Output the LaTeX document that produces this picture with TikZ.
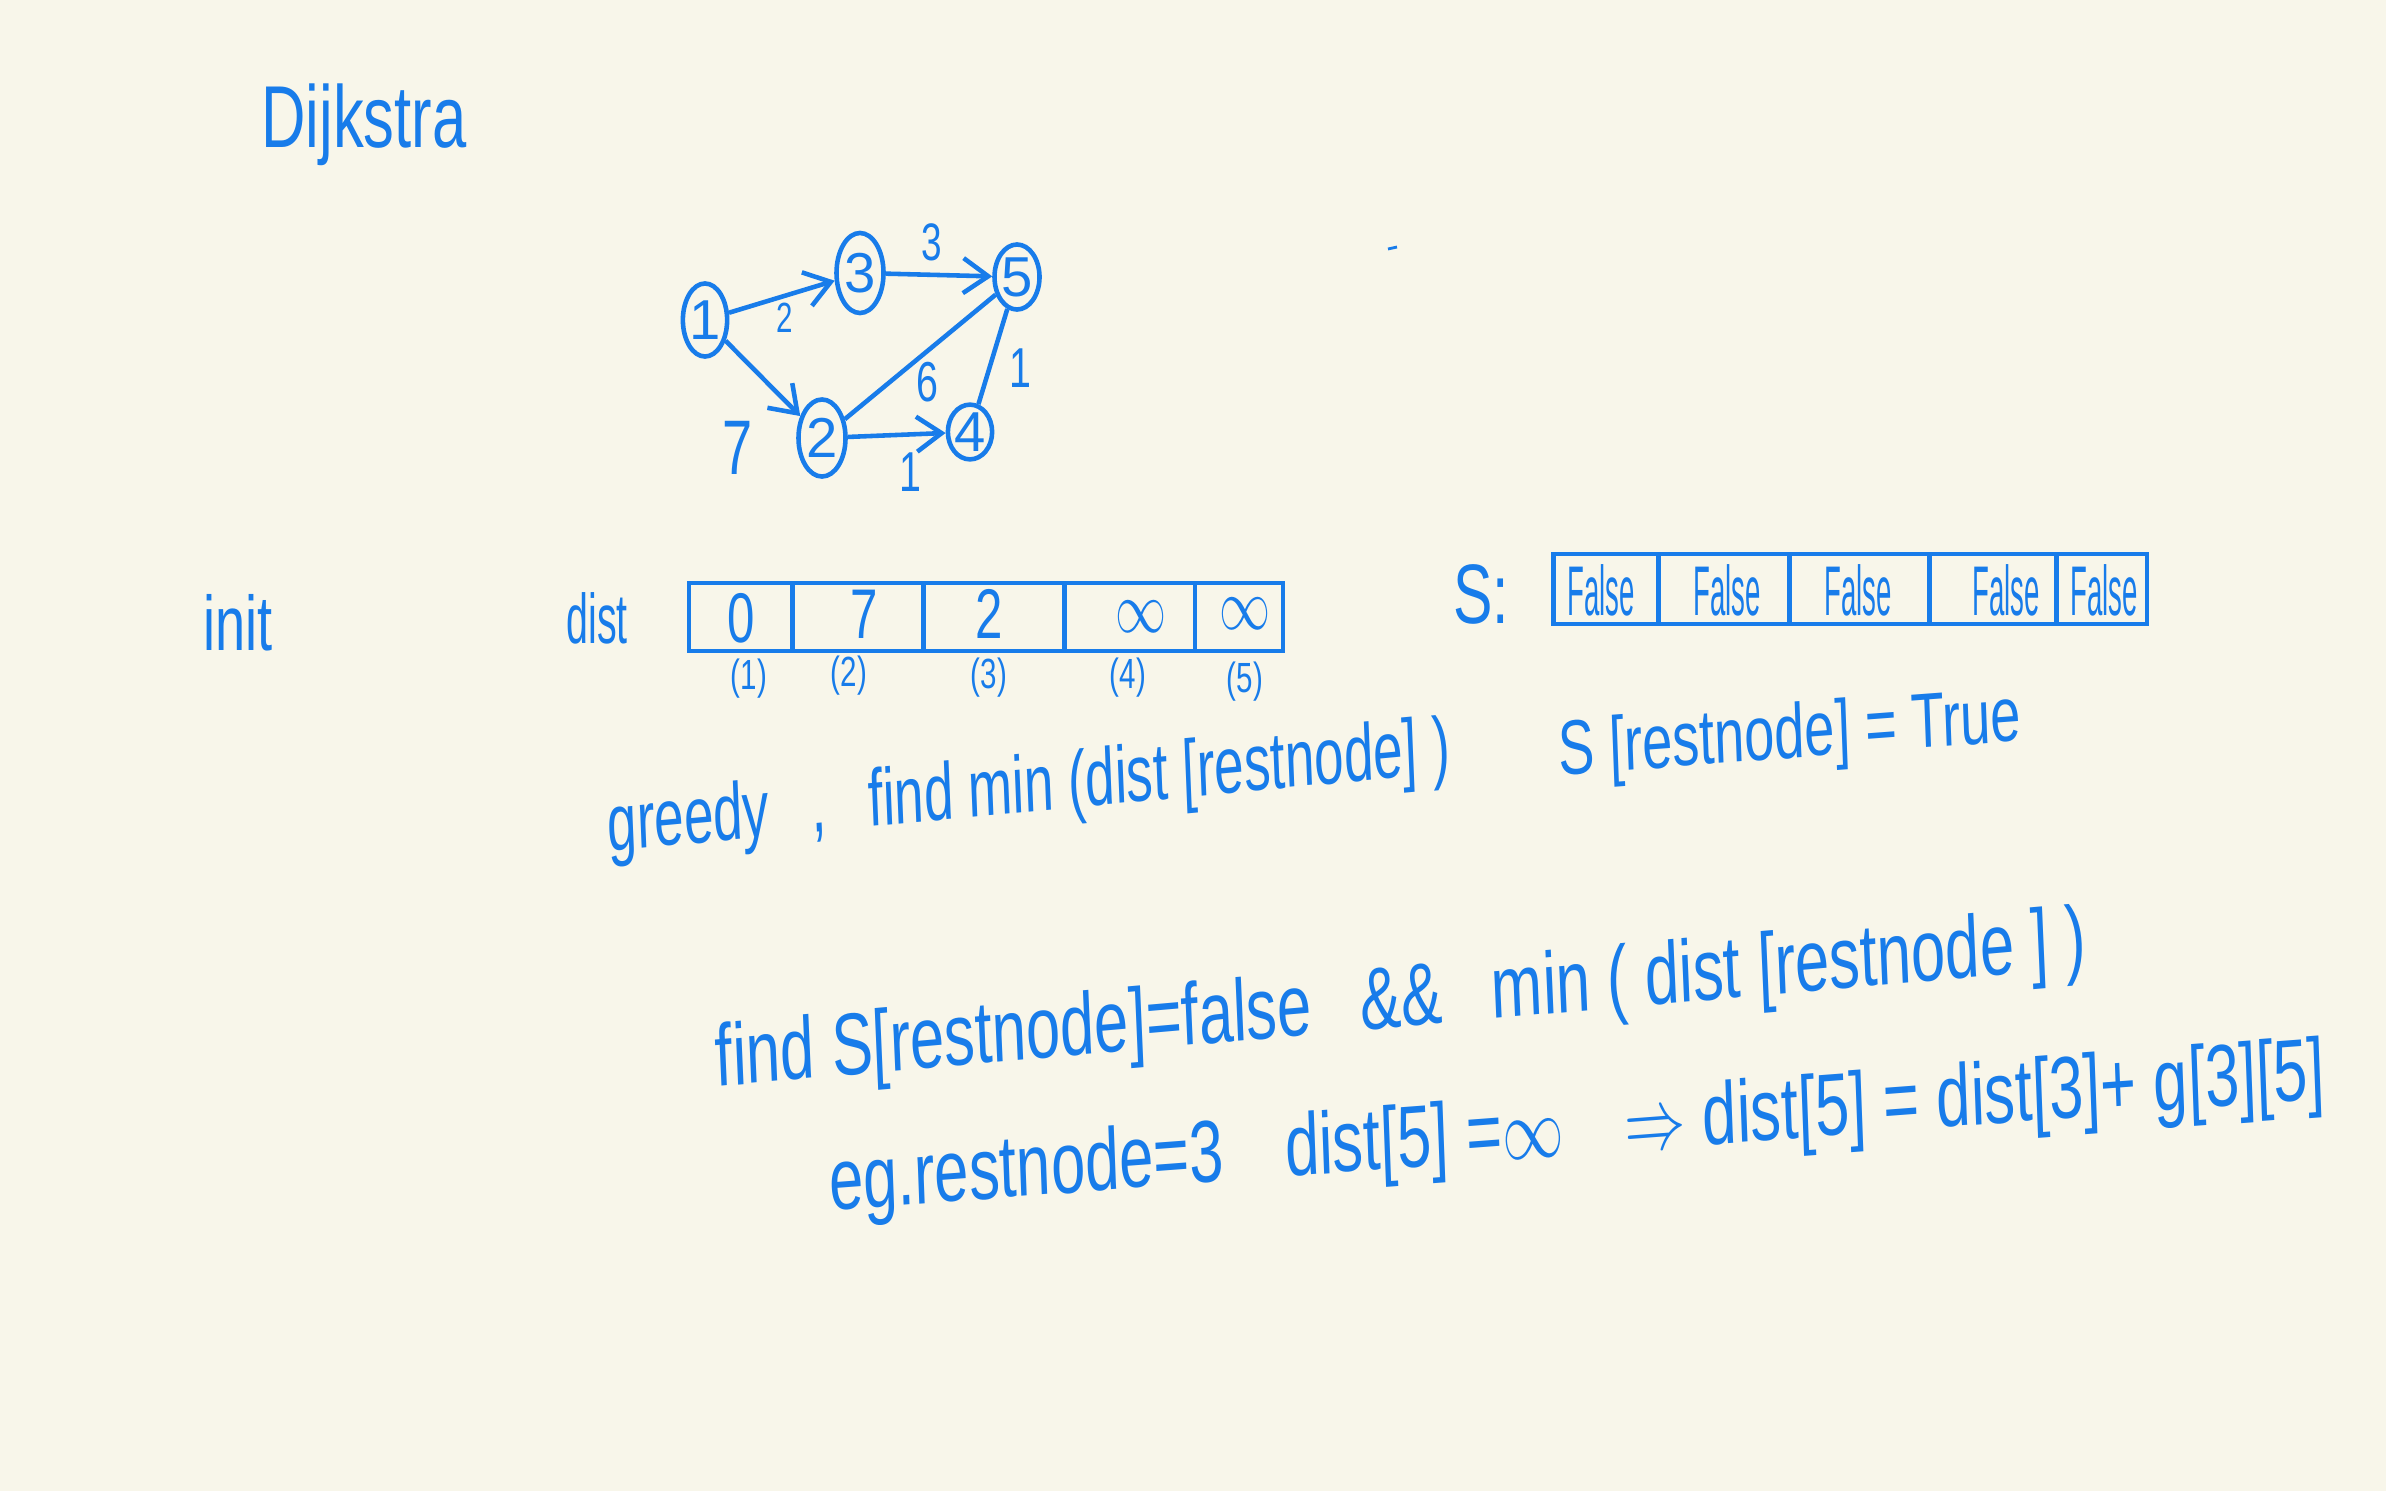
\documentclass[tikz,border=0pt]{standalone}
\usepackage{fontspec}
\setmainfont{Liberation Sans}
\usetikzlibrary{shapes.geometric,arrows.meta}
\definecolor{ink}{RGB}{24,124,234}
\definecolor{paper}{RGB}{248,246,234}
\tikzset{
  hand/.style={text=ink, inner sep=0pt, xscale=0.7},
  vertex/.style={ellipse, draw=ink, line width=1.3pt, inner sep=0pt, text=ink, font=\fontsize{16}{16}\selectfont},
  cell/.style={rectangle, draw=ink, line width=1.3pt, minimum height=0.68cm, inner sep=0pt, outer sep=0pt, text=ink},
  edge/.style={ink, line width=1.3pt},
}
\begin{document}
\begin{tikzpicture}[x=0.01cm, y=-0.01cm, >={Straight Barb[length=2.5mm,width=3.5mm]}]
    % Paper
    \fill[paper] (0,0) rectangle (2386,1491);
    \useasboundingbox (0,0) rectangle (2386,1491);

    % Title
    \node[hand, font=\fontsize{25}{25}\selectfont] (title) at (364,125) {Dijkstra};

    % Graph
    \node[vertex, minimum width=0.43cm, minimum height=0.73cm] (n1) at (705,320) {1};
    \node[vertex, minimum width=0.47cm, minimum height=0.80cm] (n3) at (860,273) {3};
    \node[vertex, minimum width=0.45cm, minimum height=0.65cm] (n5) at (1017,277) {5};
    \node[vertex, minimum width=0.47cm, minimum height=0.77cm] (n2) at (822,438) {2};
    \node[vertex, minimum width=0.37cm, minimum height=0.50cm] (n4) at (970,432) {4};
    \draw[edge, ->] (n1) -- (n3);
    \draw[edge, ->] (n3) -- (n5);
    \draw[edge, ->] (n1) -- (n2);
    \draw[edge, ->] (n2) -- (n4);
    \draw[edge] (n2) -- (n5);
    \draw[edge] (n4) -- (n5);
    \node[hand, font=\fontsize{12}{12}\selectfont] (w13) at (785,318) {2};
    \node[hand, font=\fontsize{15}{15}\selectfont] (w35) at (932,242) {3};
    \node[hand, font=\fontsize{22}{22}\selectfont] (w12) at (738,448) {7};
    \node[hand, font=\fontsize{16}{16}\selectfont] (w25) at (927,382) {6};
    \node[hand, font=\fontsize{16}{16}\selectfont] (w45) at (1020,368) {1};
    \node[hand, font=\fontsize{16}{16}\selectfont] (w24) at (910,472) {1};
    \draw[edge, line width=0.8pt] (1388,249) -- (1397,247);

    % dist array
    \node[hand, font=\fontsize{22}{22}\selectfont] (init) at (238,623) {init};
    \node[hand, xscale=0.8, font=\fontsize{20}{20}\selectfont] (distlbl) at (597,618) {dist};
    \node[cell, minimum width=1.04cm] (d1) at (741,617) {};
    \node[cell, minimum width=1.31cm] (d2) at (858,617) {};
    \node[cell, minimum width=1.41cm] (d3) at (994,617) {};
    \node[cell, minimum width=1.30cm] (d4) at (1130,617) {};
    \node[cell, minimum width=0.88cm] (d5) at (1239,617) {};
    \node[hand, font=\fontsize{20}{20}\selectfont] (v1) at (741,618) {0};
    \node[hand, font=\fontsize{20}{20}\selectfont] (v2) at (864,614) {7};
    \node[hand, font=\fontsize{20}{20}\selectfont] (v3) at (989,614) {2};
    \node[hand, font=\fontsize{20}{20}\selectfont] (v4) at (1141,617) {$\infty$};
    \node[hand, font=\fontsize{20}{20}\selectfont] (v5) at (1245,614) {$\infty$};
    \node[hand, font=\fontsize{12}{12}\selectfont] (i1) at (749,679) {(1)};
    \node[hand, font=\fontsize{12}{12}\selectfont] (i2) at (849,676) {(2)};
    \node[hand, font=\fontsize{12}{12}\selectfont] (i3) at (989,678) {(3)};
    \node[hand, font=\fontsize{12}{12}\selectfont] (i4) at (1128,678) {(4)};
    \node[hand, font=\fontsize{12}{12}\selectfont] (i5) at (1245,682) {(5)};

    % S array
    \node[hand, font=\fontsize{24}{24}\selectfont] (slbl) at (1481,594) {S:};
    \node[cell, minimum width=1.05cm, minimum height=0.70cm] (s1) at (1606,589) {};
    \node[cell, minimum width=1.31cm, minimum height=0.70cm] (s2) at (1724,589) {};
    \node[cell, minimum width=1.40cm, minimum height=0.70cm] (s3) at (1860,589) {};
    \node[cell, minimum width=1.27cm, minimum height=0.70cm] (s4) at (1993,589) {};
    \node[cell, minimum width=0.90cm, minimum height=0.70cm] (s5) at (2102,589) {};
    \foreach \c/\x in {1/1601, 2/1727, 3/1858, 4/2006, 5/2104}
        \node[hand, xscale=0.56, font=\fontsize{20}{20}\selectfont] (f\c) at (\x,590) {False};

    % Notes
    \node[hand, xscale=0.935, rotate=3.5, font=\fontsize{23}{23}\selectfont] (greedy) at (1029,791)
        {greedy\hspace{0.8em},\hspace{0.8em}find min (dist [restnode] )};
    \node[hand, rotate=3, font=\fontsize{22}{22}\selectfont] (strue) at (1790,738)
        {S [restnode] = True};
    \node[hand, rotate=3.5, font=\fontsize{25}{25}\selectfont] (findline) at (1401,1004)
        {find S[restnode]=false\hspace{0.8em}\&\&\hspace{0.8em}min ( dist [restnode ] )};
    \node[hand, rotate=3, font=\fontsize{25}{25}\selectfont] (egline) at (1577,1132)
        {eg.restnode=3\hspace{1em}dist[5] =$\infty$\hspace{1em}$\Rightarrow$ dist[5] = dist[3]+ g[3][5]};
\end{tikzpicture}
\end{document}
